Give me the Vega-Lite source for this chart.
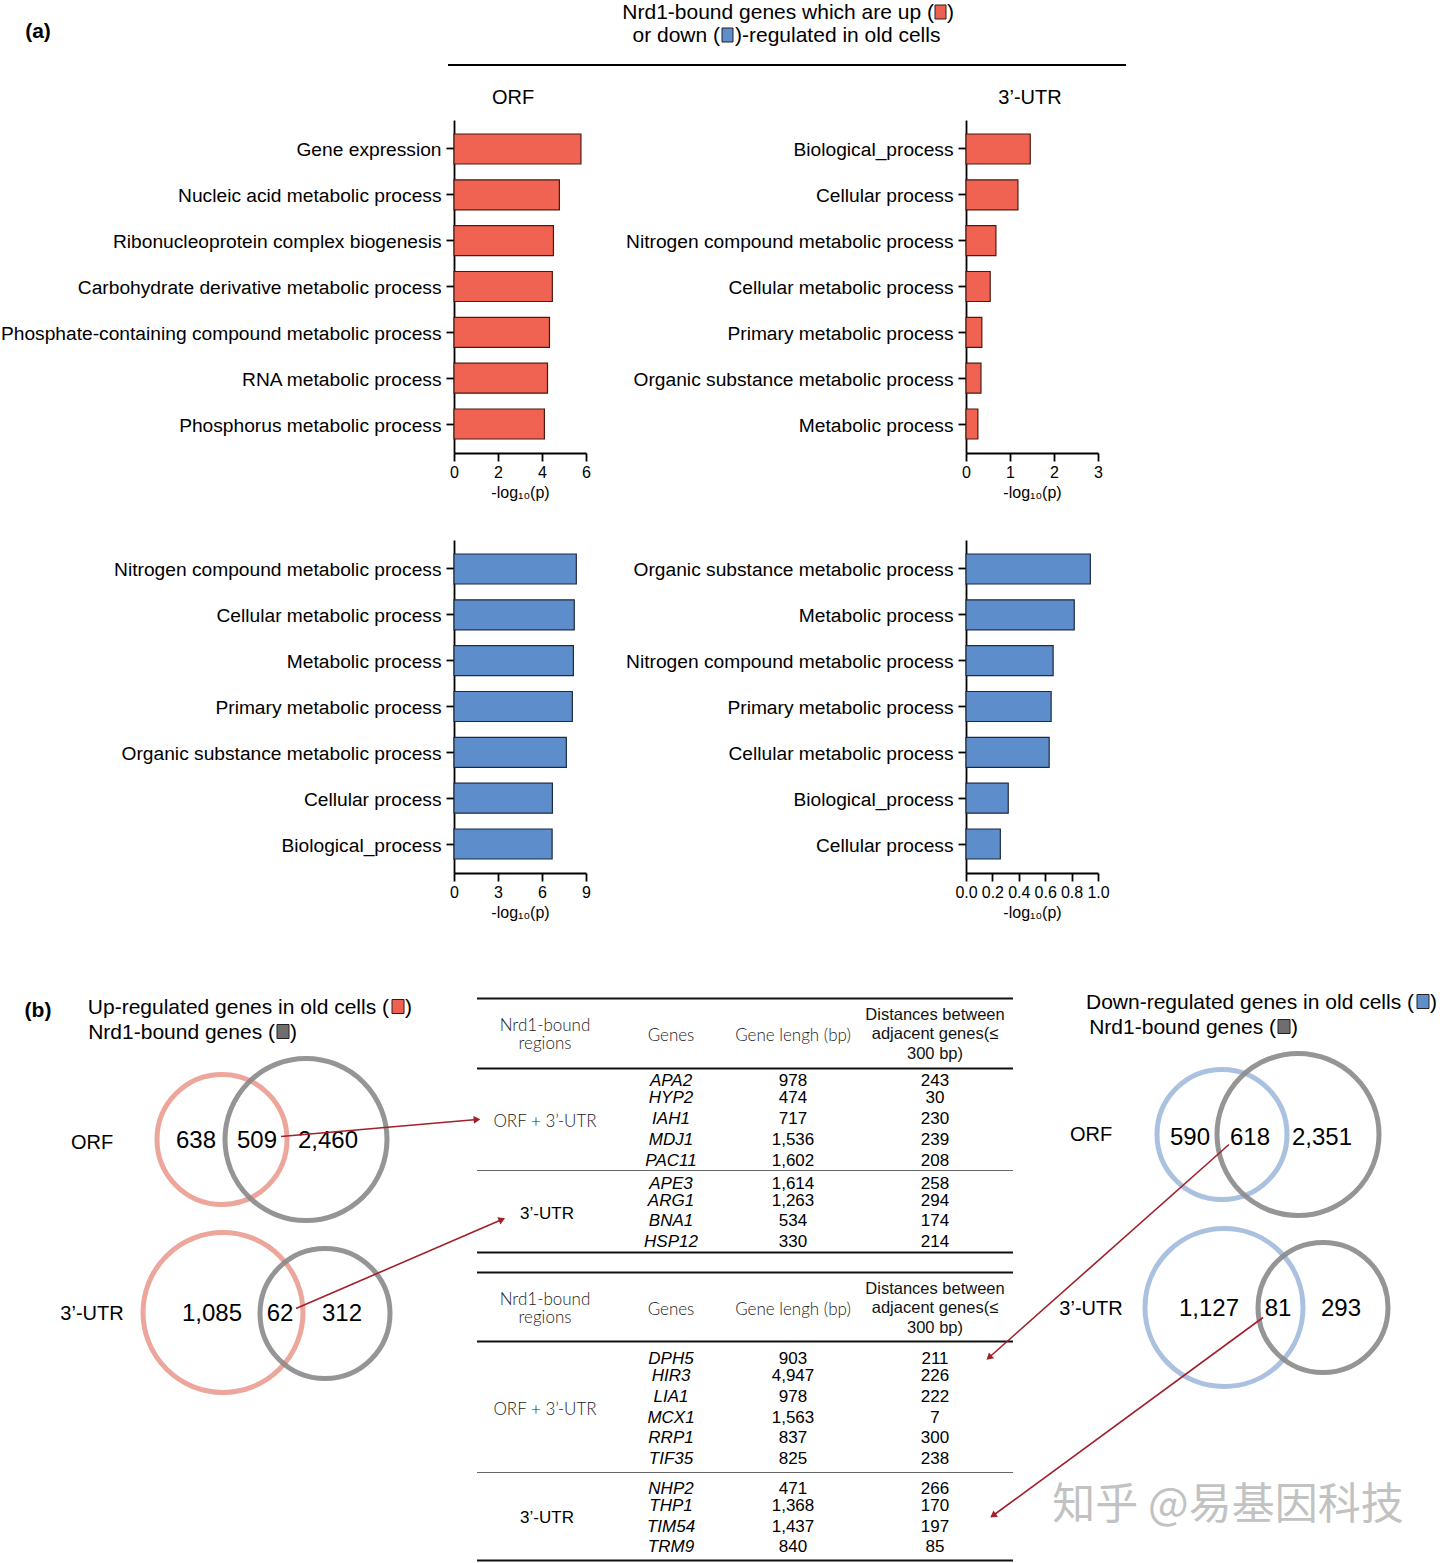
{
  "$schema": "https://vega.github.io/schema/vega-lite/v6.json",
  "background": "white",
  "padding": 0,
  "spacing": 0,
  "config": {
    "font": "Liberation Sans",
    "view": {"stroke": null},
    "axis": {"domainColor": "#000", "domainWidth": 1.8, "tickColor": "#000", "tickWidth": 1.8, "tickSize": 8, "labelColor": "#000", "titleColor": "#000", "grid": false, "labelFlush": false, "labelOverlap": false, "titleFontWeight": "normal", "labelFont": "Liberation Sans", "titleFont": "Liberation Sans"},
    "axisY": {"labelFontSize": 19.2, "labelPadding": 5, "labelLimit": 1000, "labelOffset": 1.5},
    "axisX": {"labelFontSize": 16, "labelPadding": 3, "titleFontSize": 16, "titlePadding": 4},
    "text": {"font": "Liberation Sans", "color": "#000"}
  },
  "vconcat": [
    {
      "width": 986,
      "height": 120,
      "encoding": {
        "x": {"field": "x", "type": "quantitative", "scale": {"domain": [454, 1440], "nice": false, "zero": false}, "axis": null},
        "y": {"field": "y", "type": "quantitative", "scale": {"domain": [0, 120], "nice": false, "zero": false, "reverse": true}, "axis": null}
      },
      "layer": [
        {"data": {"values": [{"t": "(a)", "x": 38, "y": 32}]}, "mark": {"type": "text", "fontSize": 21, "fontWeight": "bold"}, "encoding": {"text": {"field": "t", "type": "nominal"}}},
        {"data": {"values": [{"t": "Nrd1-bound genes which are up (", "x": 934, "y": 13}, {"t": "or down (", "x": 720, "y": 36}]}, "mark": {"type": "text", "fontSize": 21, "align": "right"}, "encoding": {"text": {"field": "t", "type": "nominal"}}},
        {"data": {"values": [{"t": ")", "x": 947, "y": 13}, {"t": ")-regulated in old cells", "x": 735, "y": 36}]}, "mark": {"type": "text", "fontSize": 21, "align": "left"}, "encoding": {"text": {"field": "t", "type": "nominal"}}},
        {"data": {"values": [{"set": "up", "x": 935, "x2": 946, "y": 5, "y2": 19}, {"set": "down", "x": 722, "x2": 733, "y": 28, "y2": 42}]}, "mark": {"type": "rect", "stroke": "#222", "strokeWidth": 1}, "encoding": {"x2": {"field": "x2"}, "y2": {"field": "y2"}, "fill": {"field": "set", "type": "nominal", "scale": {"domain": ["up", "down", "nrd1"], "range": ["#EE6150", "#5E8FCB", "#6E6E6E"]}, "legend": null}}},
        {"data": {"values": [{"x": 448, "x2": 1126, "y": 65}]}, "mark": {"type": "rule", "strokeWidth": 2, "color": "#000"}, "encoding": {"x2": {"field": "x2"}}},
        {"data": {"values": [{"t": "ORF", "x": 513, "y": 98}, {"t": "3’-UTR", "x": 1030, "y": 98}]}, "mark": {"type": "text", "fontSize": 20}, "encoding": {"text": {"field": "t", "type": "nominal"}}}
      ]
    },
    {
      "columns": 2,
      "bounds": "flush",
      "spacing": {"row": 87, "column": 380},
      "concat": [
        {
          "width": 132, "height": 333,
          "data": {"values": [
            {"term": "Gene expression", "value": 5.77},
            {"term": "Nucleic acid metabolic process", "value": 4.79},
            {"term": "Ribonucleoprotein complex biogenesis", "value": 4.52},
            {"term": "Carbohydrate derivative metabolic process", "value": 4.47},
            {"term": "Phosphate-containing compound metabolic process", "value": 4.34},
            {"term": "RNA metabolic process", "value": 4.25},
            {"term": "Phosphorus metabolic process", "value": 4.11}
          ]},
          "mark": {"type": "bar", "fill": "#F06352", "stroke": "#4d1a12", "strokeWidth": 1.2},
          "encoding": {
            "y": {"field": "term", "type": "nominal", "sort": null, "scale": {"paddingInner": 0.345, "paddingOuter": 0.305}, "axis": {"title": null}},
            "x": {"field": "value", "type": "quantitative", "scale": {"domain": [0, 6], "nice": false}, "axis": {"values": [0, 2, 4, 6], "format": "d", "title": "-log₁₀(p)"}}
          }
        },
        {
          "width": 132, "height": 333,
          "data": {"values": [
            {"term": "Biological_process", "value": 1.46},
            {"term": "Cellular process", "value": 1.18},
            {"term": "Nitrogen compound metabolic process", "value": 0.68},
            {"term": "Cellular metabolic process", "value": 0.55},
            {"term": "Primary metabolic process", "value": 0.36},
            {"term": "Organic substance metabolic process", "value": 0.34},
            {"term": "Metabolic process", "value": 0.27}
          ]},
          "mark": {"type": "bar", "fill": "#F06352", "stroke": "#4d1a12", "strokeWidth": 1.2},
          "encoding": {
            "y": {"field": "term", "type": "nominal", "sort": null, "scale": {"paddingInner": 0.345, "paddingOuter": 0.305}, "axis": {"title": null}},
            "x": {"field": "value", "type": "quantitative", "scale": {"domain": [0, 3], "nice": false}, "axis": {"values": [0, 1, 2, 3], "format": "d", "title": "-log₁₀(p)"}}
          }
        },
        {
          "width": 132, "height": 333,
          "data": {"values": [
            {"term": "Nitrogen compound metabolic process", "value": 8.34},
            {"term": "Cellular metabolic process", "value": 8.2},
            {"term": "Metabolic process", "value": 8.14},
            {"term": "Primary metabolic process", "value": 8.07},
            {"term": "Organic substance metabolic process", "value": 7.66},
            {"term": "Cellular process", "value": 6.71},
            {"term": "Biological_process", "value": 6.69}
          ]},
          "mark": {"type": "bar", "fill": "#5D8ECB", "stroke": "#1e2b40", "strokeWidth": 1.2},
          "encoding": {
            "y": {"field": "term", "type": "nominal", "sort": null, "scale": {"paddingInner": 0.345, "paddingOuter": 0.305}, "axis": {"title": null}},
            "x": {"field": "value", "type": "quantitative", "scale": {"domain": [0, 9], "nice": false}, "axis": {"values": [0, 3, 6, 9], "format": "d", "title": "-log₁₀(p)"}}
          }
        },
        {
          "width": 132, "height": 333,
          "data": {"values": [
            {"term": "Organic substance metabolic process", "value": 0.942},
            {"term": "Metabolic process", "value": 0.82},
            {"term": "Nitrogen compound metabolic process", "value": 0.66},
            {"term": "Primary metabolic process", "value": 0.645},
            {"term": "Cellular metabolic process", "value": 0.63},
            {"term": "Biological_process", "value": 0.32},
            {"term": "Cellular process", "value": 0.26}
          ]},
          "mark": {"type": "bar", "fill": "#5D8ECB", "stroke": "#1e2b40", "strokeWidth": 1.2},
          "encoding": {
            "y": {"field": "term", "type": "nominal", "sort": null, "scale": {"paddingInner": 0.345, "paddingOuter": 0.305}, "axis": {"title": null}},
            "x": {"field": "value", "type": "quantitative", "scale": {"domain": [0, 1], "nice": false}, "axis": {"values": [0, 0.2, 0.4, 0.6, 0.8, 1.0], "format": ".1f", "title": "-log₁₀(p)"}}
          }
        }
      ]
    },
    {
      "width": 986,
      "height": 642,
      "encoding": {
        "x": {"field": "x", "type": "quantitative", "scale": {"domain": [454, 1440], "nice": false, "zero": false}, "axis": null},
        "y": {"field": "y", "type": "quantitative", "scale": {"domain": [919.5, 1561.5], "nice": false, "zero": false, "reverse": true}, "axis": null}
      },
      "layer": [
        {"data": {"values": [{"t": "(b)", "x": 38, "y": 1010}]}, "mark": {"type": "text", "fontSize": 21, "fontWeight": "bold"}, "encoding": {"text": {"field": "t", "type": "nominal"}}},
        {"data": {"values": [
          {"t": "Up-regulated genes in old cells (", "x": 389, "y": 1007},
          {"t": "Nrd1-bound genes (", "x": 275, "y": 1032},
          {"t": "Down-regulated genes in old cells (", "x": 1414, "y": 1002},
          {"t": "Nrd1-bound genes (", "x": 1276, "y": 1027}
        ]}, "mark": {"type": "text", "fontSize": 21, "align": "right"}, "encoding": {"text": {"field": "t", "type": "nominal"}}},
        {"data": {"values": [
          {"t": ")", "x": 405, "y": 1007},
          {"t": ")", "x": 290, "y": 1032},
          {"t": ")", "x": 1430, "y": 1002},
          {"t": ")", "x": 1291, "y": 1027}
        ]}, "mark": {"type": "text", "fontSize": 21, "align": "left"}, "encoding": {"text": {"field": "t", "type": "nominal"}}},
        {"data": {"values": [
          {"set": "up", "x": 392, "x2": 404, "y": 999, "y2": 1013},
          {"set": "nrd1", "x": 277, "x2": 289, "y": 1024, "y2": 1038},
          {"set": "down", "x": 1417, "x2": 1429, "y": 994, "y2": 1008},
          {"set": "nrd1", "x": 1278, "x2": 1290, "y": 1019, "y2": 1033}
        ]}, "mark": {"type": "rect", "stroke": "#222", "strokeWidth": 1}, "encoding": {"x2": {"field": "x2"}, "y2": {"field": "y2"}, "fill": {"field": "set", "type": "nominal", "scale": {"domain": ["up", "down", "nrd1"], "range": ["#EE6150", "#5E8FCB", "#6E6E6E"]}, "legend": null}}},
        {"data": {"values": [
          {"set": "up", "x": 222, "y": 1139, "r": 65},
          {"set": "nrd1", "x": 306, "y": 1139, "r": 81},
          {"set": "up", "x": 223, "y": 1312, "r": 80},
          {"set": "nrd1", "x": 325, "y": 1313, "r": 65},
          {"set": "down", "x": 1222, "y": 1134, "r": 65},
          {"set": "nrd1", "x": 1298, "y": 1134, "r": 81},
          {"set": "down", "x": 1224, "y": 1307, "r": 79},
          {"set": "nrd1", "x": 1323, "y": 1307, "r": 65}
        ]}, "mark": {"type": "point", "shape": "circle", "filled": false, "strokeWidth": 5, "opacity": 0.9}, "encoding": {
          "size": {"field": "r", "type": "quantitative", "scale": {"type": "pow", "exponent": 2, "domain": [0, 100], "range": [0, 40000]}, "legend": null},
          "stroke": {"field": "set", "type": "nominal", "scale": {"domain": ["up", "down", "nrd1"], "range": ["#EC9D92", "#A3BBDD", "#8A8A8A"]}, "legend": null}
        }},
        {"data": {"values": [
          {"t": "638", "x": 196, "y": 1140}, {"t": "509", "x": 257, "y": 1140}, {"t": "2,460", "x": 328, "y": 1140},
          {"t": "1,085", "x": 212, "y": 1313}, {"t": "62", "x": 280, "y": 1313}, {"t": "312", "x": 342, "y": 1313},
          {"t": "590", "x": 1190, "y": 1137}, {"t": "618", "x": 1250, "y": 1137}, {"t": "2,351", "x": 1322, "y": 1137},
          {"t": "1,127", "x": 1209, "y": 1308}, {"t": "81", "x": 1278, "y": 1308}, {"t": "293", "x": 1341, "y": 1308}
        ]}, "mark": {"type": "text", "fontSize": 24}, "encoding": {"text": {"field": "t", "type": "nominal"}}},
        {"data": {"values": [
          {"t": "ORF", "x": 92, "y": 1142}, {"t": "3’-UTR", "x": 92, "y": 1313},
          {"t": "ORF", "x": 1091, "y": 1134}, {"t": "3’-UTR", "x": 1091, "y": 1308}
        ]}, "mark": {"type": "text", "fontSize": 20}, "encoding": {"text": {"field": "t", "type": "nominal"}}},
        {"data": {"values": [
          {"x": 477, "x2": 1013, "y": 998}, {"x": 477, "x2": 1013, "y": 1068}, {"x": 477, "x2": 1013, "y": 1252},
          {"x": 477, "x2": 1013, "y": 1272}, {"x": 477, "x2": 1013, "y": 1341}, {"x": 477, "x2": 1013, "y": 1560}
        ]}, "mark": {"type": "rule", "strokeWidth": 2.2, "color": "#111"}, "encoding": {"x2": {"field": "x2"}}},
        {"data": {"values": [
          {"x": 477, "x2": 1013, "y": 1170}, {"x": 477, "x2": 1013, "y": 1472}
        ]}, "mark": {"type": "rule", "strokeWidth": 1.2, "color": "#666"}, "encoding": {"x2": {"field": "x2"}}},
        {"data": {"values": [
          {"t": "Nrd1-bound", "x": 545, "y": 1025}, {"t": "regions", "x": 545, "y": 1043},
          {"t": "Genes", "x": 671, "y": 1035}, {"t": "Gene lengh (bp)", "x": 793, "y": 1035},
          {"t": "Nrd1-bound", "x": 545, "y": 1299}, {"t": "regions", "x": 545, "y": 1317},
          {"t": "Genes", "x": 671, "y": 1309}, {"t": "Gene lengh (bp)", "x": 793, "y": 1309},
          {"t": "ORF + 3’-UTR", "x": 545, "y": 1121}, {"t": "ORF + 3’-UTR", "x": 545, "y": 1409}
        ]}, "mark": {"type": "text", "fontSize": 17, "font": "Lato", "fontWeight": 300, "color": "#222"}, "encoding": {"text": {"field": "t", "type": "nominal"}}},
        {"data": {"values": [
          {"t": "Distances between", "x": 935, "y": 1014}, {"t": "adjacent genes(≤", "x": 935, "y": 1033}, {"t": "300 bp)", "x": 935, "y": 1053},
          {"t": "Distances between", "x": 935, "y": 1288}, {"t": "adjacent genes(≤", "x": 935, "y": 1307}, {"t": "300 bp)", "x": 935, "y": 1327}
        ]}, "mark": {"type": "text", "fontSize": 16.5, "color": "#111"}, "encoding": {"text": {"field": "t", "type": "nominal"}}},
        {"data": {"values": [
          {"t": "3’-UTR", "x": 547, "y": 1213}, {"t": "3’-UTR", "x": 547, "y": 1517}
        ]}, "mark": {"type": "text", "fontSize": 17}, "encoding": {"text": {"field": "t", "type": "nominal"}}},
        {"data": {"values": [
          {"t": "APA2", "x": 671, "y": 1080}, {"t": "HYP2", "x": 671, "y": 1097}, {"t": "IAH1", "x": 671, "y": 1118},
          {"t": "MDJ1", "x": 671, "y": 1139}, {"t": "PAC11", "x": 671, "y": 1160}, {"t": "APE3", "x": 671, "y": 1183},
          {"t": "ARG1", "x": 671, "y": 1200}, {"t": "BNA1", "x": 671, "y": 1220}, {"t": "HSP12", "x": 671, "y": 1241},
          {"t": "DPH5", "x": 671, "y": 1358}, {"t": "HIR3", "x": 671, "y": 1375}, {"t": "LIA1", "x": 671, "y": 1396},
          {"t": "MCX1", "x": 671, "y": 1417}, {"t": "RRP1", "x": 671, "y": 1437}, {"t": "TIF35", "x": 671, "y": 1458},
          {"t": "NHP2", "x": 671, "y": 1488}, {"t": "THP1", "x": 671, "y": 1505}, {"t": "TIM54", "x": 671, "y": 1526},
          {"t": "TRM9", "x": 671, "y": 1546}
        ]}, "mark": {"type": "text", "fontSize": 17, "fontStyle": "italic"}, "encoding": {"text": {"field": "t", "type": "nominal"}}},
        {"data": {"values": [
          {"t": "978", "x": 793, "y": 1080}, {"t": "474", "x": 793, "y": 1097}, {"t": "717", "x": 793, "y": 1118},
          {"t": "1,536", "x": 793, "y": 1139}, {"t": "1,602", "x": 793, "y": 1160}, {"t": "1,614", "x": 793, "y": 1183},
          {"t": "1,263", "x": 793, "y": 1200}, {"t": "534", "x": 793, "y": 1220}, {"t": "330", "x": 793, "y": 1241},
          {"t": "903", "x": 793, "y": 1358}, {"t": "4,947", "x": 793, "y": 1375}, {"t": "978", "x": 793, "y": 1396},
          {"t": "1,563", "x": 793, "y": 1417}, {"t": "837", "x": 793, "y": 1437}, {"t": "825", "x": 793, "y": 1458},
          {"t": "471", "x": 793, "y": 1488}, {"t": "1,368", "x": 793, "y": 1505}, {"t": "1,437", "x": 793, "y": 1526},
          {"t": "840", "x": 793, "y": 1546},
          {"t": "243", "x": 935, "y": 1080}, {"t": "30", "x": 935, "y": 1097}, {"t": "230", "x": 935, "y": 1118},
          {"t": "239", "x": 935, "y": 1139}, {"t": "208", "x": 935, "y": 1160}, {"t": "258", "x": 935, "y": 1183},
          {"t": "294", "x": 935, "y": 1200}, {"t": "174", "x": 935, "y": 1220}, {"t": "214", "x": 935, "y": 1241},
          {"t": "211", "x": 935, "y": 1358}, {"t": "226", "x": 935, "y": 1375}, {"t": "222", "x": 935, "y": 1396},
          {"t": "7", "x": 935, "y": 1417}, {"t": "300", "x": 935, "y": 1437}, {"t": "238", "x": 935, "y": 1458},
          {"t": "266", "x": 935, "y": 1488}, {"t": "170", "x": 935, "y": 1505}, {"t": "197", "x": 935, "y": 1526},
          {"t": "85", "x": 935, "y": 1546}
        ]}, "mark": {"type": "text", "fontSize": 17}, "encoding": {"text": {"field": "t", "type": "nominal"}}},
        {
          "data": {"values": [
            {"x": 281, "y": 1136, "x2": 477, "y2": 1119, "a": 355},
            {"x": 296, "y": 1308, "x2": 502, "y2": 1219, "a": 337},
            {"x": 1229, "y": 1144, "x2": 989, "y2": 1357, "a": 138.5},
            {"x": 1263, "y": 1317, "x2": 993, "y2": 1515, "a": 144}
          ]},
          "layer": [
            {"mark": {"type": "rule", "strokeWidth": 1.6, "color": "#A0202C"}, "encoding": {"x2": {"field": "x2"}, "y2": {"field": "y2"}}},
            {"mark": {"type": "point", "shape": "triangle-right", "filled": true, "size": 60, "color": "#A0202C", "opacity": 1}, "encoding": {
              "x": {"field": "x2", "type": "quantitative"},
              "y": {"field": "y2", "type": "quantitative"},
              "angle": {"field": "a", "type": "quantitative", "scale": {"domain": [0, 360], "range": [0, 360]}}
            }}
          ]
        },
        {"data": {"values": [{"t": "知乎 @易基因科技", "x": 1228, "y": 1505}]}, "mark": {"type": "text", "fontSize": 43, "font": "Noto Sans CJK SC", "color": "#c2c2c2"}, "encoding": {"text": {"field": "t", "type": "nominal"}}}
      ]
    }
  ]
}
